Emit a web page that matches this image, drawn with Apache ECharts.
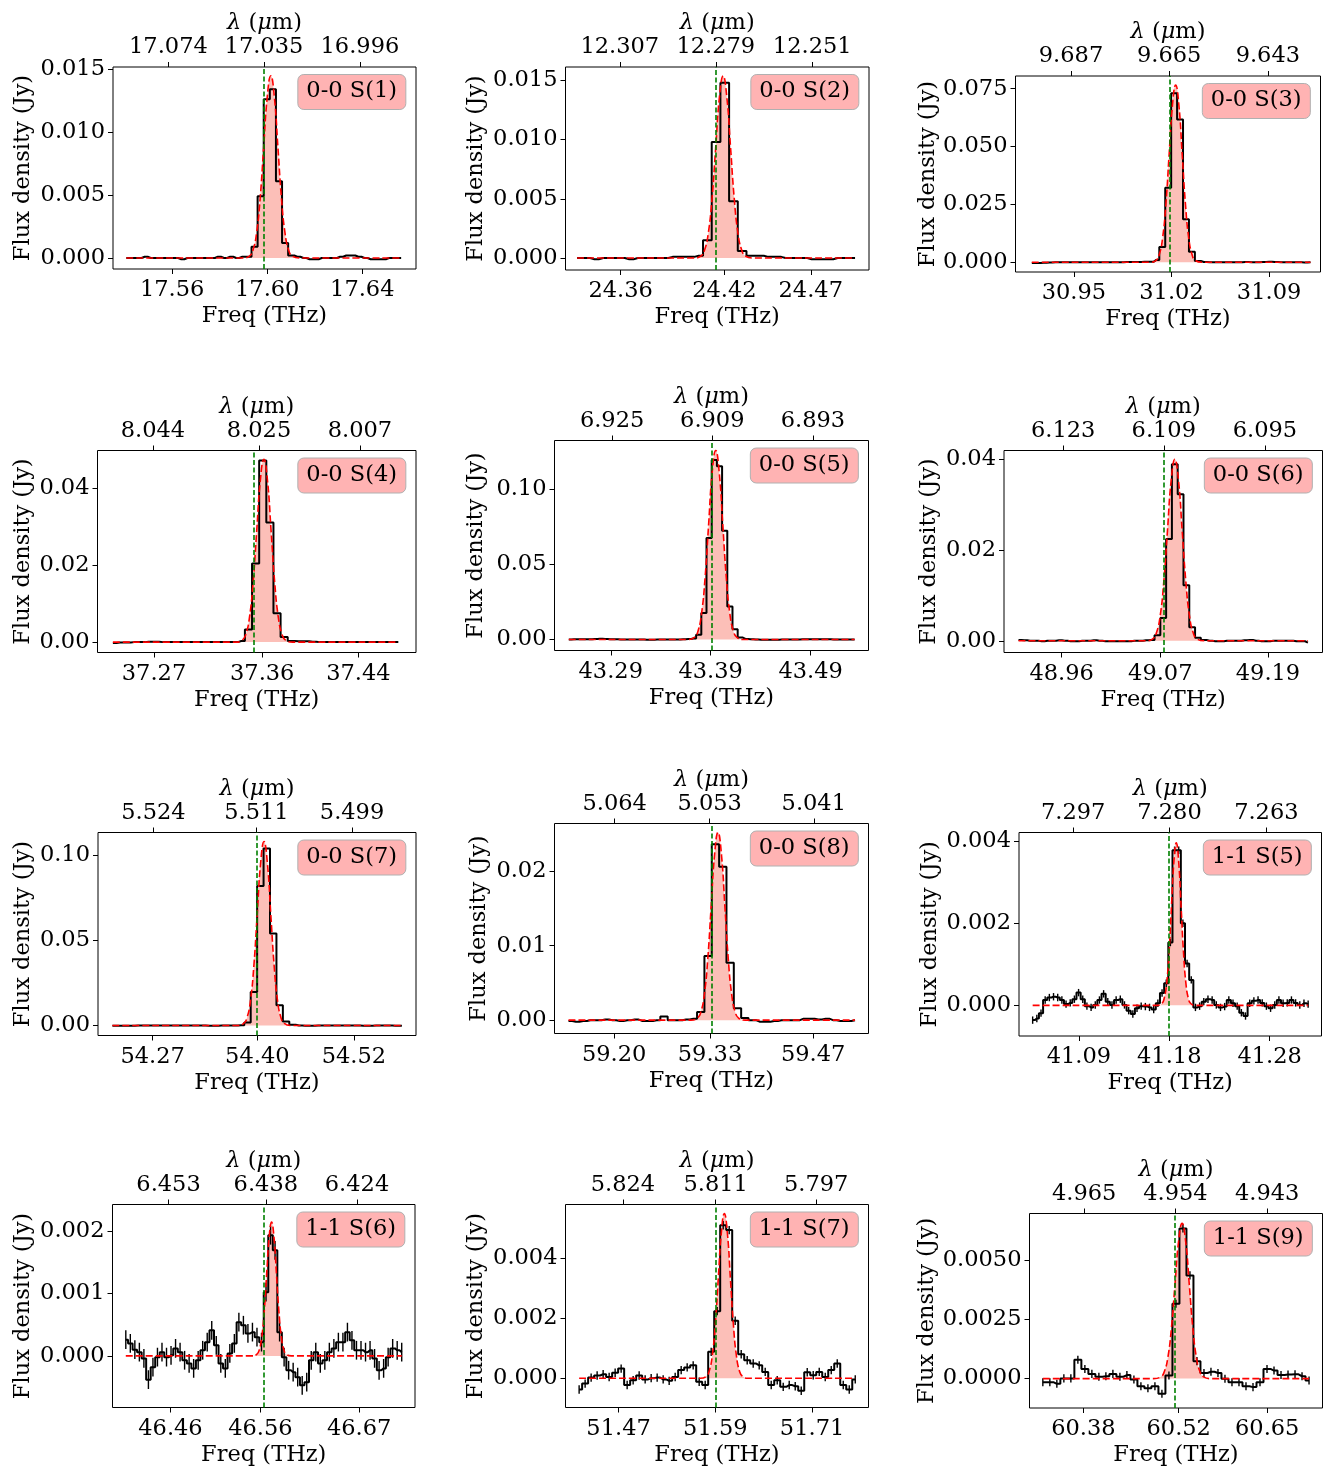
<!DOCTYPE html>
<html>
<head>
<meta charset="utf-8">
<title>H2 line fits</title>
<script src="https://cdn.jsdelivr.net/npm/echarts@6/dist/echarts.min.js"></script>
<style>
  html, body { margin: 0; background: #fff; }
  #chart { width: 1328px; height: 1468px; }
</style>
</head>
<body>
<div id="chart"></div>
<script>
// c in um * THz, used to place the wavelength ticks on the top axis
const C_UM_THZ = 299.792458

const lineNames = ['0-0 S(1)', '0-0 S(2)', '0-0 S(3)', '0-0 S(4)', '0-0 S(5)', '0-0 S(6)',
  '0-0 S(7)', '0-0 S(8)', '1-1 S(5)', '1-1 S(6)', '1-1 S(7)', '1-1 S(9)']

// tick labels
const freqTicks = [
  ['17.56', '17.60', '17.64'], ['24.36', '24.42', '24.47'], ['30.95', '31.02', '31.09'],
  ['37.27', '37.36', '37.44'], ['43.29', '43.39', '43.49'], ['48.96', '49.07', '49.19'],
  ['54.27', '54.40', '54.52'], ['59.20', '59.33', '59.47'], ['41.09', '41.18', '41.28'],
  ['46.46', '46.56', '46.67'], ['51.47', '51.59', '51.71'], ['60.38', '60.52', '60.65']
]
const lamTicks = [
  ['17.074', '17.035', '16.996'], ['12.307', '12.279', '12.251'], ['9.687', '9.665', '9.643'],
  ['8.044', '8.025', '8.007'], ['6.925', '6.909', '6.893'], ['6.123', '6.109', '6.095'],
  ['5.524', '5.511', '5.499'], ['5.064', '5.053', '5.041'], ['7.297', '7.280', '7.263'],
  ['6.453', '6.438', '6.424'], ['5.824', '5.811', '5.797'], ['4.965', '4.954', '4.943']
]
const fluxTicks = [
  ['0.000', '0.005', '0.010', '0.015'], ['0.000', '0.005', '0.010', '0.015'],
  ['0.000', '0.025', '0.050', '0.075'], ['0.00', '0.02', '0.04'], ['0.00', '0.05', '0.10'],
  ['0.00', '0.02', '0.04'], ['0.00', '0.05', '0.10'], ['0.00', '0.01', '0.02'],
  ['0.000', '0.002', '0.004'], ['0.000', '0.001', '0.002'], ['0.000', '0.002', '0.004'],
  ['0.0000', '0.0025', '0.0050']
]

// axis ranges (THz, Jy)
const freqRange = [
  [17.5351, 17.6626], [24.3281, 24.5037], [30.9081, 31.1269], [37.2230, 37.4879],
  [43.2337, 43.5479], [48.8958, 49.2508], [54.2021, 54.5971], [59.1190, 59.5451],
  [41.0304, 41.3316], [46.3955, 46.7321], [51.4042, 51.7800], [60.3008, 60.7312]
]
const fluxRange = [
  [-0.00087, 0.01516], [-0.00101, 0.01612], [-0.0042, 0.0805], [-0.00269, 0.04967],
  [-0.0073, 0.1323], [-0.00257, 0.04184], [-0.00586, 0.1131], [-0.00179, 0.0264],
  [-0.000747, 0.004212], [-0.000826, 0.002422], [-0.00098, 0.005805], [-0.001244, 0.00699]
]

// expected line position (green dashed)
const restFreq = [17.5986, 24.4149, 31.0184, 37.3533, 43.3910, 49.0740,
  54.3990, 59.3320, 41.1794, 46.5636, 51.5909, 60.5137]

// spectral channel grid: first channel centre and channel width, THz
const chanStart = [17.5407, 24.3348, 30.9198, 37.2358, 43.2480, 48.9120,
  54.2200, 59.1380, 41.0440, 46.4103, 51.4211, 60.3204]
const chanWidth = [0.00257, 0.005026, 0.004254, 0.005935, 0.0052, 0.006451,
  0.00799, 0.00997, 0.004156, 0.005033, 0.007445, 0.01029]

// flux density per channel, Jy
const flux00S1 = [0.0000, 0.0000, 0.0000, 0.0001, 0.0000, 0.0000, 0.0000, 0.0000, 0.0000, -0.0001,
  0.0000, 0.0000, 0.0000, 0.0000, 0.0000, 0.0001, 0.0000, 0.0001, 0.0000, 0.0001,
  0.0001, 0.0009, 0.0049, 0.0126, 0.0134, 0.0061, 0.0012, 0.0002,
  0.0001, 0.0000, -0.0001, -0.0001, 0.0000, 0.0000, 0.0000, 0.0001, 0.0002, 0.0002,
  0.0001, 0.0000, -0.0001, -0.0001, -0.0001, 0.0000, 0.0000, 0.0000]
const flux00S2 = [0.0000, 0.0000, -0.0001, 0.0000, 0.0000, 0.0000, -0.0001, 0.0000, 0.0000, 0.0000,
  0.0000, 0.0001, 0.0001, 0.0001, 0.0002, 0.0015, 0.0098, 0.0148, 0.0048, 0.0006,
  0.0002, 0.0002, 0.0001, 0.0001, 0.0000, 0.0000, 0.0000, -0.0001, -0.0001, -0.0001,
  0.0000, 0.0000, 0.0000]
const flux00S3 = [-0.0003, -0.0003, -0.0002, -0.0001, 0.0000, 0.0000, 0.0000, 0.0000, 0.0000, 0.0000,
  0.0000, 0.0000, 0.0000, 0.0000, 0.0000, 0.0000, 0.0001, 0.0001, 0.0001, 0.0002,
  0.0002, 0.0010, 0.0066, 0.0322, 0.0730, 0.0617, 0.0186, 0.0045, 0.0006,
  0.0001, 0.0000, 0.0000, 0.0000, 0.0000, 0.0000, 0.0000, 0.0001, 0.0000, 0.0000,
  0.0001, 0.0002, 0.0001, 0.0000, 0.0000, 0.0000, 0.0000, -0.0001, 0.0000]
const flux00S4 = [-0.0002, -0.0001, -0.0001, 0.0000, 0.0000, 0.0001, 0.0001, 0.0000, 0.0000, 0.0000,
  0.0000, 0.0000, 0.0000, 0.0000, 0.0000, 0.0000, 0.0000,
  0.0000, 0.0003, 0.0033, 0.0204, 0.0471, 0.0310, 0.0075, 0.0013, 0.0003, 0.0002,
  0.0002, 0.0001, 0.0000, 0.0000, 0.0000, 0.0000, 0.0000, 0.0000, 0.0000, 0.0000,
  0.0000, 0.0000, 0.0000, 0.0000]
const flux00S5 = [0.0000, 0.0001, 0.0001, 0.0001, 0.0002, 0.0003, 0.0005, 0.0003, 0.0002, 0.0001,
  0.0000, 0.0000, 0.0000, 0.0000, 0.0000, -0.0001, -0.0001, 0.0000, 0.0000, 0.0000,
  0.0000, 0.0000, 0.0001, 0.0003, 0.0007,
  0.0031, 0.0176, 0.0675, 0.1194, 0.1151, 0.0723, 0.0220, 0.0069, 0.0013,
  0.0004, 0.0002, 0.0000, -0.0001, -0.0002, -0.0002, -0.0001, 0.0000, 0.0000, 0.0000,
  0.0000, 0.0001, 0.0001, 0.0001, 0.0002, 0.0001, 0.0001, 0.0000, 0.0000, 0.0000,
  0.0000, 0.0000]
const flux00S6 = [0.0002, 0.0001, 0.0000, 0.0000, -0.0001, 0.0000, 0.0000, 0.0001, 0.0000, -0.0001,
  -0.0001, 0.0000, 0.0000, 0.0001, 0.0000, -0.0001, -0.0001, -0.0001, -0.0001, -0.0001,
  0.0000, 0.0000, 0.0001, 0.0002,
  0.0012, 0.0050, 0.0224, 0.0388, 0.0322, 0.0122, 0.0030, 0.0007,
  0.0002, 0.0000, -0.0001, -0.0001, 0.0000, 0.0000, 0.0000, 0.0001, 0.0002, 0.0000,
  -0.0001, -0.0001, 0.0000, 0.0000, 0.0000, 0.0000, -0.0001, -0.0001, -0.0004]
const flux00S7 = [-0.0002, -0.0002, -0.0001, -0.0001, 0.0000, 0.0000, 0.0000, 0.0000, 0.0000, 0.0000,
  0.0000, 0.0000, 0.0000, 0.0000, 0.0000, -0.0001, -0.0001, 0.0000, 0.0000, 0.0000,
  0.0002,
  0.0018, 0.0197, 0.0818, 0.1037, 0.0539, 0.0119, 0.0023, 0.0004,
  0.0000, -0.0002, -0.0001, 0.0000, 0.0000, 0.0000, 0.0000, 0.0000, 0.0000, 0.0000,
  -0.0001, -0.0001, 0.0000, 0.0000, 0.0000, -0.0001, -0.0002]
const flux00S8 = [-0.0001, -0.0002, -0.0001, 0.0000, 0.0000, 0.0001, 0.0000, -0.0001, 0.0000, 0.0001,
  -0.0001, -0.0001, 0.0000, 0.0005, 0.0000, 0.0000, 0.0001,
  0.0002, 0.0011, 0.0086, 0.0236, 0.0206, 0.0077, 0.0016, 0.0003,
  0.0000, -0.0002, -0.0002, -0.0001, 0.0000, 0.0000, 0.0000, 0.0002, 0.0002, 0.0001,
  0.0002, 0.0000, -0.0001, -0.0001, 0.0000]
const flux11S5 = [-0.00036, -0.00032, -0.00019, 0.00013, 0.00019, 0.00021, 0.00019, 0.00013, 0.00003, 0.00006,
  0.00015, 0.00031, 0.00015, -0.00002, -0.00005, 0.00001, 0.00013, 0.00028, 0.00009, 0.00001,
  0.00013, 0.00015, 0.00001, -0.00013, -0.00021, -0.00007, -0.00002, -0.00003, -0.00005, -0.0001,
  0.00005, 0.0003, 0.00054, 0.00153, 0.00378, 0.00378, 0.0020, 0.00102, 0.00062, -0.00005,
  -0.00002, 0.00009, 0.00015, 0.00013, 0.00001, -0.00005, -0.00003, 0.00013, 0.00005, -0.00002,
  -0.00018, -0.00026, 0.00005, 0.00011, 0.00013, 0.00006, -0.00002, -0.00007, 0.00001, 0.00013,
  0.00005, 0.00006, 0.00013, 0.00006, 0.00001, 0.00005, 0.00003]
const flux11S6 = [0.00026, 0.0002, 0.0001, 0.00006, -0.00004, -0.00038, -0.00018, -0.00002, 0.00006, -0.00002,
  0.00001, 0.00012, 0.00006, -0.00007, -0.00012, -0.0002, -0.00007, 0.00009, 0.00022, 0.00041,
  0.00017, -0.00012, -0.0002, 0.00004, 0.0002, 0.00054, 0.00049, 0.00036, 0.00038, 0.0003,
  0.00022, 0.00102, 0.00193, 0.00169, 0.00038, -0.00002, -0.00023, -0.00026, -0.00034, -0.00047,
  -0.00042, -0.00007, 0.00006, -0.00012, -0.00007, 0.00006, 0.00012, 0.00022, 0.00022, 0.00038,
  0.00025, 0.00009, 0.00009, 0.00006, 0.00009, -0.00004, -0.00023, -0.0002, -0.00002, 0.00012,
  0.00009, 0.00006]
const flux11S7 = [-0.00038, -0.00018, 0.00002, 0.00009, 0.00013, 0.00004, 0.00018, 0.00032, -0.00023, -0.00007,
  0.00009, -0.00004, 0.0, 0.00002, -0.00004, -0.00009, 0.00004, 0.00027, 0.00036, 0.00043,
  -0.00012, -0.00023, 0.00088, 0.00224, 0.00511, 0.00495, 0.00192, 0.0008, 0.0006, 0.00049,
  0.00043, 0.00021, -0.00023, -0.00007, -0.00029, -0.00023, -0.00027, -0.00042, 0.0002, 0.0001,
  0.00021, 0.00004, 0.00027, 0.00049, -0.00023, -0.00038, -0.00004]
const flux11S9 = [-0.00015, -0.00015, -0.00022, 0.00001, 0.00001, 0.0008, 0.00041, 0.0002, 0.00008, 0.0001,
  0.0002, 0.00008, 0.00015, -0.00004, -0.00032, -0.00041, -0.00032, -0.00064, 0.00013, 0.00317,
  0.00636, 0.00437, 0.00074, 0.00024, 0.00029, 0.00024, -0.00001, -0.00015, -0.00015, -0.00032,
  -0.00036, -0.00015, 0.00041, 0.00034, 0.00015, 0.00017, 0.00018, 0.0001, -0.00008]
const fluxes = [flux00S1, flux00S2, flux00S3, flux00S4, flux00S5, flux00S6,
  flux00S7, flux00S8, flux11S5, flux11S6, flux11S7, flux11S9]

// 1-sigma error per channel (only visible in the faint lines)
const fluxErr = [0, 0, 0, 0, 0, 0, 0, 0, 0.00009, 0.00015, 0.00014, 0.00017]

const fit00S1 = [[17.5407, 0], [17.5895, 0], [17.5925, 0.00016], [17.5940, 0.00064], [17.5955, 0.00196],
  [17.5970, 0.00470], [17.5985, 0.00878], [17.6000, 0.01277], [17.6015, 0.01447], [17.6030, 0.01277],
  [17.6045, 0.00878], [17.6060, 0.00470], [17.6075, 0.00196], [17.6090, 0.00064], [17.6105, 0.00016],
  [17.6135, 0], [17.6564, 0]]
const fit00S2 = [[24.3348, 0], [24.4021, 0], [24.4064, 0.00017], [24.40855, 0.00067], [24.4107, 0.00208],
  [24.41285, 0.00499], [24.4150, 0.00932], [24.41715, 0.01356], [24.4193, 0.01537], [24.42145, 0.01356],
  [24.4236, 0.00932], [24.42575, 0.00499], [24.4279, 0.00208], [24.43005, 0.00067], [24.4322, 0.00017],
  [24.4365, 0], [24.4956, 0]]
const fit00S3 = [[30.9198, 0], [31.0042, 0], [31.0089, 0.00085], [31.01125, 0.00336], [31.0136, 0.01036],
  [31.01595, 0.02487], [31.0183, 0.04646], [31.02065, 0.0676], [31.0230, 0.0766], [31.02535, 0.0676],
  [31.0277, 0.04646], [31.03005, 0.02487], [31.0324, 0.01036], [31.03475, 0.00336], [31.0371, 0.00085],
  [31.0418, 0], [31.1197, 0]]
const fit00S4 = [[37.2358, 0], [37.3374, 0], [37.3434, 0.00053], [37.3464, 0.00208], [37.3494, 0.00641],
  [37.3524, 0.01539], [37.3554, 0.02875], [37.3584, 0.04183], [37.3614, 0.0474], [37.3644, 0.04183],
  [37.3674, 0.02875], [37.3704, 0.01539], [37.3734, 0.00641], [37.3764, 0.00208], [37.3794, 0.00053],
  [37.3854, 0], [37.4732, 0]]
const fit00S5 = [[43.2480, 0], [43.3666, 0], [43.3737, 0.0014], [43.37725, 0.00552], [43.3808, 0.0170],
  [43.38435, 0.0408], [43.3879, 0.0762], [43.39145, 0.1109], [43.3950, 0.1257], [43.39855, 0.1109],
  [43.4021, 0.0762], [43.40565, 0.0408], [43.4092, 0.0170], [43.41275, 0.00552], [43.4163, 0.0014],
  [43.4234, 0], [43.5340, 0]]
const fit00S6 = [[48.9120, 0], [49.0534, 0], [49.0616, 0.00044], [49.0657, 0.00175], [49.0698, 0.0054],
  [49.0739, 0.01296], [49.0780, 0.0242], [49.0821, 0.03521], [49.0862, 0.0399], [49.0903, 0.03521],
  [49.0944, 0.0242], [49.0985, 0.01296], [49.1026, 0.0054], [49.1067, 0.00175], [49.1108, 0.00044],
  [49.1190, 0], [49.2346, 0]]
const fit00S7 = [[54.2200, 0], [54.3747, 0], [54.3831, 0.0012], [54.3873, 0.00473], [54.3915, 0.01459],
  [54.3957, 0.0350], [54.3999, 0.06538], [54.4041, 0.09513], [54.4083, 0.1078], [54.4125, 0.09513],
  [54.4167, 0.06538], [54.4209, 0.0350], [54.4251, 0.01459], [54.4293, 0.00473], [54.4335, 0.0012],
  [54.4419, 0], [54.5796, 0]]
const fit00S8 = [[59.1380, 0], [59.3037, 0], [59.3130, 0.00028], [59.31765, 0.00111], [59.3223, 0.00341],
  [59.32695, 0.00818], [59.3316, 0.01528], [59.33625, 0.02224], [59.3409, 0.0252], [59.34555, 0.02224],
  [59.3502, 0.01528], [59.35485, 0.00818], [59.3595, 0.00341], [59.36415, 0.00111], [59.3688, 0.00028],
  [59.3781, 0], [59.5268, 0]]
const fit11S5 = [[41.0440, 0], [41.1678, 0], [41.1726, 0.000044], [41.1750, 0.000174], [41.1774, 0.000536],
  [41.1798, 0.001286], [41.1822, 0.002402], [41.1846, 0.003495], [41.1870, 0.00396], [41.1894, 0.003495],
  [41.1918, 0.002402], [41.1942, 0.001286], [41.1966, 0.000536], [41.1990, 0.000174], [41.2014, 0.000044],
  [41.2062, 0], [41.3183, 0]]
const fit11S6 = [[46.4103, 0], [46.5505, 0], [46.5560, 0.000024], [46.55875, 0.000094], [46.5615, 0.00029],
  [46.56425, 0.000695], [46.5670, 0.001298], [46.56975, 0.001889], [46.5725, 0.00214], [46.57525, 0.001889],
  [46.5780, 0.001298], [46.58075, 0.000695], [46.5835, 0.00029], [46.58625, 0.000094], [46.5890, 0.000024],
  [46.5945, 0], [46.7173, 0]]
const fit11S7 = [[51.4211, 0], [51.5712, 0], [51.5787, 0.000061], [51.58245, 0.000241], [51.5862, 0.000744],
  [51.58995, 0.001786], [51.5937, 0.003336], [51.59745, 0.004854], [51.6012, 0.0055], [51.60495, 0.004854],
  [51.6087, 0.003336], [51.61245, 0.001786], [51.6162, 0.000744], [51.61995, 0.000241], [51.6237, 0.000061],
  [51.6312, 0], [51.7636, 0]]
const fit11S9 = [[60.3204, 0], [60.4830, 0], [60.4935, 0.000073], [60.49875, 0.000288], [60.5040, 0.000889],
  [60.50925, 0.002133], [60.5145, 0.003985], [60.51975, 0.005798], [60.5250, 0.00657], [60.53025, 0.005798],
  [60.5355, 0.003985], [60.54075, 0.002133], [60.5460, 0.000889], [60.55125, 0.000288], [60.5565, 0.000073],
  [60.5670, 0], [60.7114, 0]]
const fits = [fit00S1, fit00S2, fit00S3, fit00S4, fit00S5, fit00S6,
  fit00S7, fit00S8, fit11S5, fit11S6, fit11S7, fit11S9]

// layout: plot boxes [left, top, width, height] in px, y-name offsets
const boxes = [
  [113, 67, 303, 202], [565.5, 67, 303.5, 203], [1015.5, 76, 305, 196],
  [97.5, 450.5, 318.5, 202], [554.5, 440.5, 314, 210], [1004, 450.5, 318.5, 202],
  [98, 832.5, 318, 203], [554.5, 823.5, 314, 210], [1019, 832.5, 302.5, 203.5],
  [112.5, 1204.5, 302.5, 203], [565.5, 1204.5, 303, 203], [1029.5, 1213.5, 293, 196]
]
const yNameGap = [78, 77.5, 74, 63, 66.5, 63, 63, 64, 77.5, 78, 77.5, 89.5]

const FONT = 'DejaVu Serif'
const FS = 22.5
const W = 1328

function nearest(arr, v) {
  let best = 0
  arr.forEach((a, k) => { if (Math.abs(a - v) < Math.abs(arr[best] - v)) best = k })
  return best
}

function renderErr(params, api) {
  const x = api.value(0)
  const y = api.value(1)
  const e = api.value(2)
  const lo = api.coord([x, y - e])
  const hi = api.coord([x, y + e])
  return {
    type: 'line',
    shape: { x1: lo[0], y1: lo[1], x2: hi[0], y2: hi[1] },
    style: { stroke: '#000', lineWidth: 1.4 }
  }
}

const grid = []
const xAxis = []
const yAxis = []
const series = []
const title = []
const textStyle = { fontFamily: FONT, fontSize: FS, color: '#000' }
const tickStyle = { color: '#000', width: 1 }

for (let i = 0; i < 12; i++) {
  const [left, top, width, height] = boxes[i]
  grid.push({ left, top, width, height, show: true, borderColor: '#000', borderWidth: 1, backgroundColor: 'transparent' })

  const fPos = freqTicks[i].map(Number)
  xAxis.push({
    gridIndex: i, type: 'value', position: 'bottom', min: freqRange[i][0], max: freqRange[i][1],
    name: 'Freq (THz)', nameLocation: 'middle', nameGap: 36, nameTextStyle: textStyle,
    axisLine: { show: false, onZero: false },
    splitLine: { show: false },
    axisTick: { show: true, length: 5, lineStyle: tickStyle, customValues: fPos },
    axisLabel: { ...textStyle, margin: 10, customValues: fPos, formatter: v => freqTicks[i][nearest(fPos, v)] }
  })

  const lPos = lamTicks[i].map(l => C_UM_THZ / Number(l))
  xAxis.push({
    gridIndex: i, type: 'value', position: 'top', min: freqRange[i][0], max: freqRange[i][1],
    name: '{it|λ} ({it|μ}m)', nameLocation: 'middle', nameGap: 29,
    nameTextStyle: { ...textStyle, rich: { it: { fontFamily: FONT, fontSize: FS, fontStyle: 'italic', color: '#000' } } },
    axisLine: { show: false, onZero: false },
    splitLine: { show: false },
    axisTick: { show: true, length: 5, lineStyle: tickStyle, customValues: lPos },
    axisLabel: { ...textStyle, margin: 8, customValues: lPos, formatter: v => lamTicks[i][nearest(lPos, v)] }
  })

  const yPos = fluxTicks[i].map(Number)
  yAxis.push({
    gridIndex: i, type: 'value', min: fluxRange[i][0], max: fluxRange[i][1],
    name: 'Flux density (Jy)', nameLocation: 'middle', nameGap: yNameGap[i], nameTextStyle: textStyle,
    axisLine: { show: false, onZero: false },
    splitLine: { show: false },
    axisTick: { show: true, length: 5, lineStyle: tickStyle, customValues: yPos },
    axisLabel: { ...textStyle, margin: 8, customValues: yPos, formatter: v => fluxTicks[i][nearest(yPos, v)] }
  })

  title.push({
    text: lineNames[i],
    right: W - (left + width) + 10,
    top: top + 7,
    padding: [6, 9, 7, 9],
    backgroundColor: '#ffb3b3',
    borderColor: '#b0b0b0',
    borderWidth: 1,
    borderRadius: 6,
    textStyle: { ...textStyle, fontWeight: 'normal' }
  })

  const pts = fluxes[i].map((y, k) => [chanStart[i] + k * chanWidth[i], y])

  // shaded area under the fit
  series.push({
    type: 'line', xAxisIndex: 2 * i, yAxisIndex: i, data: fits[i], smooth: true,
    symbol: 'none', silent: true, z: 1,
    lineStyle: { width: 0, opacity: 0 },
    areaStyle: { color: 'rgba(250,128,114,0.5)', opacity: 1 }
  })

  if (fluxErr[i] > 0) {
    series.push({
      type: 'custom', xAxisIndex: 2 * i, yAxisIndex: i, z: 2, silent: true,
      data: pts.map(p => [p[0], p[1], fluxErr[i]]),
      renderItem: renderErr
    })
  }

  series.push({
    type: 'line', xAxisIndex: 2 * i, yAxisIndex: i, data: pts, step: 'middle',
    symbol: 'none', silent: true, z: 3,
    lineStyle: { color: '#000', width: 2 }
  })

  series.push({
    type: 'line', xAxisIndex: 2 * i, yAxisIndex: i, data: fits[i], smooth: true,
    symbol: 'none', silent: true, z: 4,
    lineStyle: { color: '#ff0000', width: 1.6, type: [7, 3] },
    markLine: {
      silent: true, symbol: 'none', precision: 6, label: { show: false }, animation: false,
      lineStyle: { color: '#008000', width: 1.6, type: [5, 2.5] },
      data: [{ xAxis: restFreq[i] }]
    }
  })
}

const chart = echarts.init(document.getElementById('chart'))
chart.setOption({
  animation: false,
  backgroundColor: '#fff',
  title,
  grid,
  xAxis,
  yAxis,
  series
})
</script>
</body>
</html>
